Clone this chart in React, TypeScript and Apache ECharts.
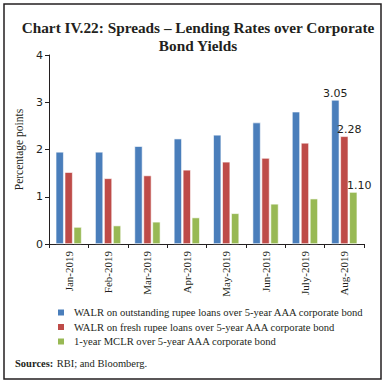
import React, { useEffect, useRef } from "react";
import * as echarts from "echarts";

const categories = ["Jan-2019", "Feb-2019", "Mar-2019", "Apr-2019", "May-2019", "Jun-2019", "July-2019", "Aug-2019"];
const walrOutstanding = [1.95, 1.95, 2.07, 2.23, 2.31, 2.57, 2.80, 3.05];
const walrFresh = [1.52, 1.39, 1.45, 1.57, 1.74, 1.82, 2.14, 2.28];
const mclr = [0.36, 0.39, 0.47, 0.56, 0.65, 0.85, 0.96, 1.10];
const seriesNames = [
  "WALR on outstanding rupee loans over 5-year AAA corporate bond",
  "WALR on fresh rupee loans over 5-year AAA corporate bond",
  "1-year MCLR over 5-year AAA corporate bond",
];
const yTicks = [0, 1, 2, 3, 4];

const SERIF = "'Liberation Serif', 'DejaVu Serif', serif";
const SANS = "'DejaVu Sans', 'Liberation Sans', sans-serif";

export default function App() {
  const ref = useRef<HTMLDivElement>(null);
  useEffect(() => {
    document.body.style.margin = "0";
    const chart = echarts.init(ref.current!, null, { renderer: "svg" });
    const last = categories.length - 1;
    const mkData = (arr: number[]) =>
      arr.map((v, i) => ({
        value: v,
        label: i === last ? { show: true } : { show: false },
      }));
    const colors = ["#4A7EBB", "#BE4B48", "#98B954"];
    const data = [walrOutstanding, walrFresh, mclr];
    const labelOffsets = [[0, 0], [5, 0], [6, 0]];
    chart.setOption({
      animation: false,
      backgroundColor: "#fff",
      title: {
        text: "Chart IV.22: Spreads \u2013 Lending Rates over Corporate\nBond Yields",
        left: 193,
        top: 13,
        textAlign: "center",
        textStyle: {
          fontFamily: SERIF,
          fontWeight: "bold",
          fontSize: 15.3,
          lineHeight: 18,
          color: "#231f20",
        },
      },
      grid: { left: 49, top: 55, right: 21, bottom: 142, containLabel: false },
      legend: {
        orient: "vertical",
        left: 51,
        top: 302,
        itemWidth: 8,
        itemHeight: 8,
        itemGap: 3.5,
        icon: "rect",
        textStyle: { fontFamily: SERIF, fontSize: 10.6, color: "#231f20", padding: [0, 0, 0, 4] },
        data: seriesNames,
      },
      xAxis: {
        type: "category",
        data: categories,
        axisLine: { lineStyle: { color: "#231f20", width: 1 } },
        axisTick: { show: true, length: 4, lineStyle: { color: "#231f20" } },
        axisLabel: {
          rotate: 90,
          interval: 0,
          fontFamily: SERIF,
          fontSize: 11,
          color: "#231f20",
          margin: 7,
        },
      },
      yAxis: {
        type: "value",
        min: 0,
        max: 4,
        interval: 1,
        name: "Percentage points",
        nameLocation: "middle",
        nameGap: 24,
        nameTextStyle: { fontFamily: SERIF, fontSize: 11.5, color: "#231f20" },
        axisLine: { show: true, lineStyle: { color: "#231f20", width: 1 } },
        axisTick: { show: true, length: 4, lineStyle: { color: "#231f20" } },
        splitLine: { show: false },
        axisLabel: {
          fontFamily: SANS,
          fontSize: 11,
          color: "#231f20",
          margin: 6,
          formatter: (v: number) => (yTicks.includes(v) ? String(v) : ""),
        },
      },
      series: seriesNames.map((name, k) => ({
        name,
        type: "bar",
        barWidth: 8,
        barGap: "12%",
        itemStyle: { color: colors[k], borderColor: "#ffffff", borderWidth: 0.6 },
        label: {
          position: "top",
          fontFamily: SANS,
          fontSize: 11,
          color: "#231f20",
          distance: 1,
          offset: labelOffsets[k],
          formatter: (p: any) => Number(p.value).toFixed(2),
        },
        data: mkData(data[k]),
      })),
      graphic: [
        {
          type: "rect",
          shape: { x: 4, y: 4, width: 377, height: 375 },
          style: { fill: "none", stroke: "#231f20", lineWidth: 1.5 },
          silent: true,
        },
        {
          type: "text",
          left: 15,
          top: 357,
          style: {
            rich: {
              b: { fontFamily: SERIF, fontWeight: "bold", fontSize: 10.5, fill: "#231f20" },
              n: { fontFamily: SERIF, fontSize: 10.5, fill: "#231f20" },
            },
            text: "{b|Sources:} {n|RBI; and Bloomberg.}",
          },
        },
      ],
    });
    return () => chart.dispose();
  }, []);
  return <div ref={ref} style={{ width: 385, height: 386 }} />;
}
